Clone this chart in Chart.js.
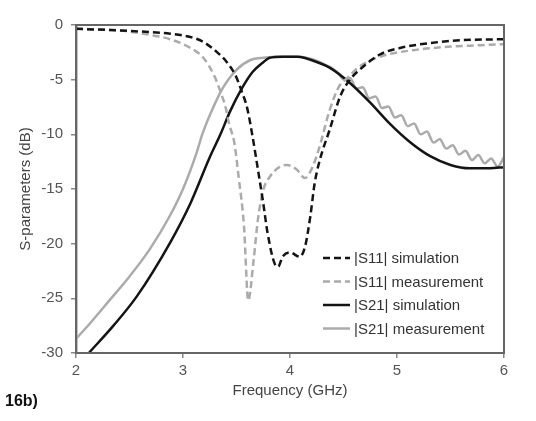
<!DOCTYPE html>
<html>
<head>
    <title>S-parameters 16b</title>
    <script src="https://cdn.jsdelivr.net/npm/chart.js"></script>
    <style>
        html, body { margin: 0; padding: 0; background: #fff; }
    </style>
</head>
<body>
    <canvas id="sChart" width="536" height="421"></canvas>
    <script>
        // values (GHz, dB)
        const s11SimFreq = [2.0, 2.3, 2.69, 2.88, 3.07, 3.19, 3.32, 3.41, 3.49, 3.55, 3.60, 3.65, 3.70, 3.75, 3.79, 3.86, 3.89, 3.93, 4.00, 4.09, 4.14, 4.19, 4.23, 4.28, 4.37, 4.47, 4.56, 4.65, 4.84, 5.03, 5.31, 5.59, 6.0];
        const s11SimDb   = [-0.35, -0.45, -0.65, -0.8, -1.1, -1.55, -2.5, -3.4, -4.6, -6.1, -7.6, -10.2, -13.2, -16.3, -19.0, -21.9, -22.1, -21.2, -20.8, -21.2, -20.3, -17.5, -14.5, -12.3, -9.6, -6.5, -5.0, -4.1, -2.7, -2.1, -1.65, -1.4, -1.3];

        const s11MeasFreq = [2.0, 2.4, 2.69, 2.88, 3.07, 3.19, 3.29, 3.35, 3.40, 3.43, 3.48, 3.52, 3.57, 3.61, 3.66, 3.70, 3.75, 3.81, 3.90, 3.97, 4.06, 4.14, 4.21, 4.28, 4.37, 4.46, 4.53, 4.65, 4.84, 5.15, 5.47, 5.78, 6.0];
        const s11MeasDb   = [-0.35, -0.5, -0.9, -1.3, -2.1, -3.0, -4.6, -6.1, -7.6, -9.0, -10.8, -13.9, -18.4, -25.2, -21.5, -17.8, -15.1, -13.9, -13.0, -12.8, -13.2, -14.0, -13.0, -11.0, -7.8, -5.6, -4.9, -3.8, -2.9, -2.3, -2.0, -1.85, -1.75];

        const s21SimFreq = [2.12, 2.35, 2.57, 2.88, 3.07, 3.25, 3.35, 3.44, 3.55, 3.65, 3.75, 3.81, 3.93, 4.07, 4.28, 4.37, 4.56, 4.75, 4.93, 5.12, 5.31, 5.50, 5.68, 5.87, 6.0];
        const s21SimDb   = [-30.0, -27.5, -24.8, -19.9, -16.3, -12.1, -10.0, -7.9, -5.8, -4.3, -3.4, -3.0, -2.9, -2.9, -3.5, -3.9, -5.3, -7.1, -9.0, -10.7, -12.0, -12.8, -13.1, -13.1, -13.0];

        const s21MeasFreq = [2.0, 2.13, 2.32, 2.50, 2.69, 2.88, 3.0, 3.13, 3.18, 3.28, 3.37, 3.50, 3.63, 3.75, 3.90, 4.07, 4.20, 4.30, 4.40, 4.45,
            4.50, 4.56, 4.62, 4.68, 4.74, 4.80, 4.86, 4.92, 4.98, 5.04, 5.10, 5.16, 5.22, 5.28, 5.34, 5.40, 5.46, 5.52, 5.58, 5.64, 5.70, 5.76, 5.82, 5.88, 5.94, 6.0];
        const s21MeasDb   = [-28.7, -27.3, -25.1, -23.0, -20.5, -17.4, -15.0, -11.6, -10.0, -7.6, -5.8, -4.1, -3.2, -3.0, -2.9, -2.9, -3.1, -3.5, -4.0, -4.4,
            -4.95, -4.85, -5.8, -5.7, -6.7, -6.55, -7.6, -7.45, -8.45, -8.25, -9.25, -9.0, -10.0, -9.75, -10.75, -10.45, -11.3, -11.0, -11.85, -11.5, -12.35, -11.9, -12.65, -12.2, -12.95, -12.1];

        const seriesLabels = ["|S11| simulation", "|S11| measurement", "|S21| simulation", "|S21| measurement"];
        const xTicks = [2, 3, 4, 5, 6];
        const yTicks = [0, -5, -10, -15, -20, -25, -30];

        function pts(xs, ys) {
            return xs.map((x, i) => ({ x: x, y: ys[i] }));
        }

        const BLACK = '#141414';
        const GREY = '#ababab';
        const FONT = 'Liberation Sans, Arial, sans-serif';

        // legend inside the plot, lower right
        const innerLegend = {
            id: 'innerLegend',
            afterDraw(chart) {
                const ctx = chart.ctx;
                const a = chart.chartArea;
                ctx.save();
                // plot frame
                ctx.strokeStyle = '#666';
                ctx.lineWidth = 2;
                ctx.strokeRect(a.left, a.top, a.right - a.left, a.bottom - a.top);

                const x0 = 323, y0 = 258, rowH = 23.5;
                chart.data.datasets.forEach((ds, i) => {
                    const y = y0 + i * rowH;
                    ctx.strokeStyle = ds.borderColor;
                    ctx.lineWidth = ds.borderWidth;
                    ctx.setLineDash(ds.borderDash || []);
                    ctx.beginPath();
                    ctx.moveTo(x0, y);
                    ctx.lineTo(x0 + 27, y);
                    ctx.stroke();
                    ctx.setLineDash([]);
                    ctx.fillStyle = '#333';
                    ctx.font = '15px ' + FONT;
                    ctx.textBaseline = 'middle';
                    ctx.fillText(ds.label, x0 + 31, y + 1);
                });
                ctx.restore();
            }
        };

        new Chart(document.getElementById("sChart"), {
            type: 'line',
            data: {
                datasets: [
                    { label: seriesLabels[0], data: pts(s11SimFreq, s11SimDb), borderColor: BLACK, borderWidth: 2.5, borderDash: [7, 4] },
                    { label: seriesLabels[1], data: pts(s11MeasFreq, s11MeasDb), borderColor: GREY, borderWidth: 2.5, borderDash: [7, 4] },
                    { label: seriesLabels[2], data: pts(s21SimFreq, s21SimDb), borderColor: BLACK, borderWidth: 2.5 },
                    { label: seriesLabels[3], data: pts(s21MeasFreq, s21MeasDb), borderColor: GREY, borderWidth: 2.5 }
                ]
            },
            options: {
                responsive: false,
                animation: false,
                elements: {
                    point: { radius: 0 },
                    line: { cubicInterpolationMode: 'monotone', fill: false }
                },
                layout: { padding: { top: 25, right: 32, left: 5, bottom: 0 } },
                plugins: {
                    legend: { display: false },
                    tooltip: { enabled: false },
                    title: {
                        display: true,
                        text: '16b)',
                        position: 'bottom',
                        align: 'start',
                        color: '#111',
                        font: { family: FONT, size: 16, weight: 'bold' },
                        padding: { top: -10, bottom: 10 }
                    }
                },
                scales: {
                    x: {
                        type: 'linear',
                        min: 2, max: 6,
                        afterBuildTicks: s => { s.ticks = xTicks.map(v => ({ value: v })); },
                        afterFit: s => { s.height = 48.8; },
                        ticks: { color: '#555', font: { family: FONT, size: 15 }, padding: 4 },
                        grid: { display: true, drawOnChartArea: false, drawTicks: true, tickLength: 5, color: '#888', lineWidth: 1.5 },
                        border: { color: '#8a8a8a', width: 2 },
                        title: { display: true, text: 'Frequency (GHz)', color: '#444', font: { family: FONT, size: 15 }, padding: { top: 0, bottom: 2 } }
                    },
                    y: {
                        min: -30, max: 0,
                        afterBuildTicks: s => { s.ticks = yTicks.map(v => ({ value: v })); },
                        afterFit: s => { s.width = 71; },
                        ticks: { color: '#555', font: { family: FONT, size: 15 }, padding: 8 },
                        grid: { display: true, drawOnChartArea: false, drawTicks: true, tickLength: 5, color: '#888', lineWidth: 1.5 },
                        border: { color: '#8a8a8a', width: 2.5 },
                        title: { display: true, text: 'S-parameters (dB)', color: '#444', font: { family: FONT, size: 15 }, padding: { top: 12, bottom: 0 } }
                    }
                }
            },
            plugins: [innerLegend]
        });
    </script>
</body>
</html>
